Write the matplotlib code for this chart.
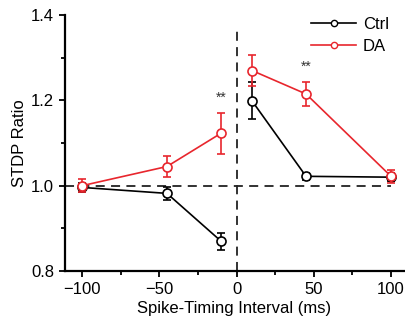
import matplotlib
matplotlib.use("Agg")
from matplotlib import pyplot as plt
from matplotlib.ticker import MultipleLocator

plt.rcParams["font.family"] = ["Liberation Sans", "DejaVu Sans"]

# data
intervals = [-100, -45, -10, 10, 45, 100]
ctrl_ratio = [0.996, 0.982, 0.870, 1.199, 1.022, 1.020]
ctrl_err = [0.010, 0.015, 0.020, 0.043, 0.008, 0.010]
da_ratio = [1.000, 1.045, 1.123, 1.270, 1.215, 1.022]
da_err = [0.015, 0.025, 0.048, 0.037, 0.028, 0.015]
star_x = [-10, 45]
star_y = [1.19, 1.263]

red = "#e8262d"

fig = plt.figure(figsize=(4.05, 3.2), dpi=100)
ax = fig.add_axes([0.1605, 0.153, 0.837, 0.80])

ax.axhline(1.0, xmin=0, xmax=(100 + 111) / (108.4 + 111), color="#222222",
           lw=1.3, ls=(0, (5, 3.5)), zorder=1)
ax.plot([0, 0], [0.8, 1.375], color="#222222", lw=1.3, ls=(0, (5, 3.5)), zorder=1)

# two separate series, pre- and post- spike intervals
for sl in (slice(0, 3), slice(3, 6)):
    ax.errorbar(intervals[sl], ctrl_ratio[sl], yerr=ctrl_err[sl], color="black",
                lw=1.2, marker="o", ms=6.5, mfc="white", mew=1.2, capsize=3,
                capthick=1.2, elinewidth=1.2, zorder=3)
    ax.errorbar(intervals[sl], da_ratio[sl], yerr=da_err[sl], color=red,
                lw=1.2, marker="o", ms=6.5, mfc="white", mew=1.2, capsize=3,
                capthick=1.2, elinewidth=1.2, zorder=4)

for x, y in zip(star_x, star_y):
    ax.text(x, y, "**", ha="center", va="bottom", fontsize=10, color="#333333")

# legend drawn by hand-styled handles
ctrl_h = plt.Line2D([], [], color="black", lw=1.2, marker="o", ms=4.5,
                    mfc="white", mew=1.0)
da_h = plt.Line2D([], [], color=red, lw=1.2, marker="o", ms=4.5,
                  mfc="white", mew=1.0)
ax.legend([ctrl_h, da_h], ["Ctrl", "DA"], loc="upper right",
          bbox_to_anchor=(1.0, 1.05), frameon=False, fontsize=12,
          handlelength=2.7, handletextpad=0.4, labelspacing=0.4)

ax.set_xlim(-111, 108.4)
ax.set_ylim(0.8, 1.4)
ax.set_xticks([-100, -50, 0, 50, 100])
ax.set_yticks([0.8, 1.0, 1.2, 1.4])
ax.xaxis.set_minor_locator(MultipleLocator(25))
ax.yaxis.set_minor_locator(MultipleLocator(0.1))
ax.tick_params(which="both", direction="out", width=1.3, labelsize=12)
ax.tick_params(which="major", length=4.5)
ax.tick_params(which="minor", length=3)
for s in ("top", "right"):
    ax.spines[s].set_visible(False)
for s in ("left", "bottom"):
    ax.spines[s].set_linewidth(1.6)

ax.set_xlabel("Spike-Timing Interval (ms)", fontsize=12, labelpad=3)
ax.set_ylabel("STDP Ratio", fontsize=12, labelpad=3)

fig.savefig("out.png", dpi=100)
